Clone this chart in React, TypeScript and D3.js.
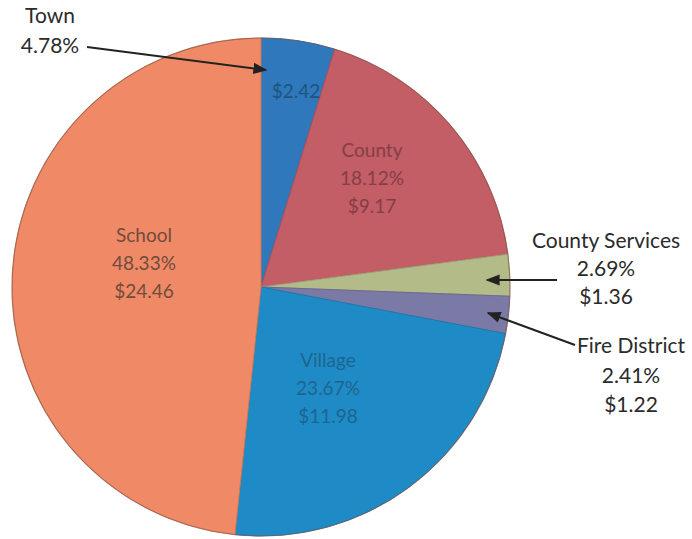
import React from "react";
import * as d3 from "d3";

const categories = ["Town", "County", "County Services", "Fire District", "Village", "School"];
const percents = [4.78, 18.12, 2.69, 2.41, 23.67, 48.33];
const dollars = ["$2.42", "$9.17", "$1.36", "$1.22", "$11.98", "$24.46"];
const colors = ["#2f78bb", "#c35d66", "#b3bb88", "#7b79a6", "#1f8bc6", "#f08a66"];

const W = 692;
const H = 539;
const cx = 261;
const cy = 287;
const R = 249;

export default function App() {
  const pie = d3.pie<number>().sort(null).value((d) => d);
  const arcs = pie(percents);
  const arc = d3.arc<d3.PieArcDatum<number>>().innerRadius(0).outerRadius(R);
  const font = "Lato, 'Open Sans', sans-serif";

  const inside: { i: number; x: number; y: number; lines: string[]; fill: string }[] = [
    { i: 5, x: 144, y: 242, lines: [categories[5], percents[5].toFixed(2) + "%", dollars[5]], fill: "#5a4236" },
    { i: 1, x: 372, y: 157, lines: [categories[1], percents[1].toFixed(2) + "%", dollars[1]], fill: "#7a3a40" },
    { i: 4, x: 328, y: 367, lines: [categories[4], percents[4].toFixed(2) + "%", dollars[4]], fill: "#1d5f88" },
    { i: 0, x: 296, y: 98, lines: [dollars[0]], fill: "#1d4e78" },
  ];

  return (
    <svg width={W} height={H} style={{ position: "absolute", left: 0, top: 0, background: "#fff" }}>
      <defs>
        <marker id="ah" viewBox="0 0 10 10" refX="9" refY="5" markerWidth="7" markerHeight="7" orient="auto">
          <path d="M0,1 L10,5 L0,9 Z" fill="#222" />
        </marker>
      </defs>
      <g transform={`translate(${cx},${cy})`}>
        {arcs.map((a, i) => (
          <path key={categories[i]} d={arc(a) || ""} fill={colors[i]} stroke={d3.color(colors[i])!.darker(0.4).toString()} strokeWidth={1} />
        ))}
        <circle r={R} fill="none" stroke="#8a5a4a" strokeWidth={1.2} opacity={0.6} />
      </g>
      {inside.map((lb) => (
        <text key={lb.i} x={lb.x} textAnchor="middle" fontFamily={font} fontSize={19} fill={lb.fill} opacity={0.85}>
          {lb.lines.map((t, k) => (
            <tspan key={k} x={lb.x} y={lb.y + k * 28}>{t}</tspan>
          ))}
        </text>
      ))}
      <text fontFamily={font} fontSize={21} fill="#2b2b2b" textAnchor="middle">
        <tspan x={50} y={23}>{categories[0]}</tspan>
        <tspan x={50} y={53}>{percents[0].toFixed(2)}%</tspan>
      </text>
      <text fontFamily={font} fontSize={21} fill="#2b2b2b" textAnchor="middle">
        <tspan x={606} y={248}>{categories[2]}</tspan>
        <tspan x={606} y={276}>{percents[2].toFixed(2)}%</tspan>
        <tspan x={606} y={304}>{dollars[2]}</tspan>
      </text>
      <text fontFamily={font} fontSize={21} fill="#2b2b2b" textAnchor="middle">
        <tspan x={631} y={353}>{categories[3]}</tspan>
        <tspan x={631} y={383}>{percents[3].toFixed(2)}%</tspan>
        <tspan x={631} y={412}>{dollars[3]}</tspan>
      </text>
      <line x1={87} y1={47} x2={266} y2={70} stroke="#222" strokeWidth={2} markerEnd="url(#ah)" />
      <line x1={557} y1={280} x2={487} y2={280} stroke="#222" strokeWidth={2} markerEnd="url(#ah)" />
      <line x1={575} y1={345} x2={488} y2={313} stroke="#222" strokeWidth={2} markerEnd="url(#ah)" />
    </svg>
  );
}
